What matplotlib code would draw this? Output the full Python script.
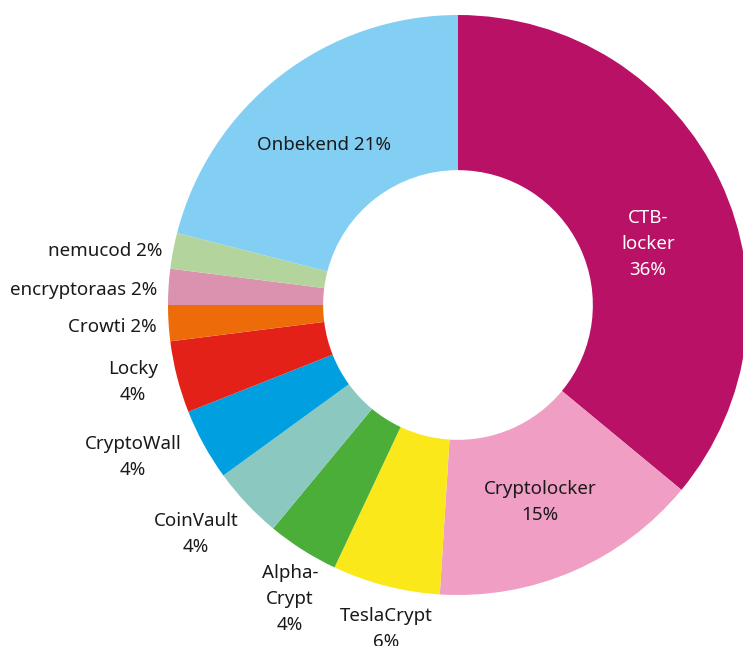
import matplotlib
matplotlib.use("Agg")
import matplotlib.pyplot as plt

labels = ["CTB-\nlocker\n36%", "Cryptolocker\n15%", "TeslaCrypt\n6%", "Alpha-\nCrypt\n4%",
          "CoinVault\n4%", "CryptoWall\n4%", "Locky\n4%", "Crowti 2%",
          "encryptoraas 2%", "nemucod 2%", "Onbekend 21%"]
values = [36, 15, 6, 4, 4, 4, 4, 2, 2, 2, 21]
colors = ["#B91166", "#F09EC4", "#FBE81A", "#4AAE38", "#8BC8C0", "#009FE0",
          "#E32118", "#EE6B0A", "#DA92AE", "#B3D59D", "#83CFF4"]

W, H = 743, 646
fig = plt.figure(figsize=(W / 100, H / 100), dpi=100)
ax = fig.add_axes([0, 0, 1, 1])

cx, cy, R = 458, H - 305, 290
ax.pie(values, colors=colors, startangle=90, counterclock=False,
       center=(cx, cy), radius=R, frame=True,
       wedgeprops=dict(width=R * 0.535, linewidth=0))
ax.set_xlim(0, W)
ax.set_ylim(0, H)
ax.set_aspect("equal")
ax.axis("off")

font = dict(family="Noto Sans", fontsize=13.5, linespacing=1.6)
# label positions in image pixel coords (x, y from top), alignment, color
pos = [
    (648, 244, "center", "white"),
    (540, 502, "center", "#1a1a1a"),
    (386, 629, "center", "#1a1a1a"),
    (290, 599, "center", "#1a1a1a"),
    (196, 534, "center", "#1a1a1a"),
    (133, 457, "center", "#1a1a1a"),
    (133, 382, "center", "#1a1a1a"),
    (157, 327, "right", "#1a1a1a"),
    (157, 290, "right", "#1a1a1a"),
    (162, 251, "right", "#1a1a1a"),
    (324, 145, "center", "#1a1a1a"),
]
for lab, (x, y, ha, c) in zip(labels, pos):
    ax.text(x, H - y, lab, ha=ha, va="center", multialignment="center",
            color=c, **font)

fig.savefig("out.png", dpi=100)
